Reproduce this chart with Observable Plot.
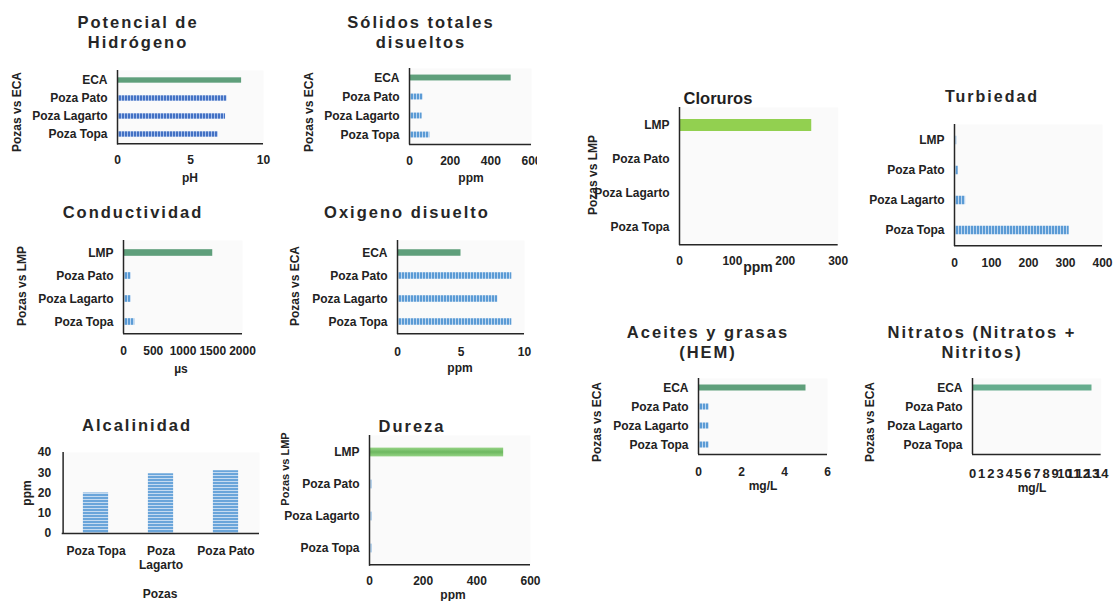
<!DOCTYPE html>
<html><head><meta charset="utf-8">
<script src="https://cdn.jsdelivr.net/npm/d3@7"></script>
<script src="https://cdn.jsdelivr.net/npm/@observablehq/plot@0.6"></script>
<style>
body{margin:0;background:#fff;}
#wrap{position:relative;width:1114px;height:601px;overflow:hidden;font-family:"Liberation Sans",Arial,sans-serif;color:#222;background:#fff;}
.t{position:absolute;white-space:nowrap;transform:translate(-50%,-50%);font-weight:bold;line-height:1;}
.title{font-size:16.5px;letter-spacing:2px;color:#262626;}
.lab{font-size:12px;}
.rot{transform:translate(-50%,-50%) rotate(-90deg);}
</style></head><body><div id="wrap">
<svg width="0" height="0" style="position:absolute;left:0;top:0">
<defs>
<pattern id="vDark" patternUnits="userSpaceOnUse" width="3" height="10"><rect width="3" height="10" fill="#a9c1ec"/><rect width="2" height="10" fill="#4472c4"/></pattern>
<pattern id="vLight" patternUnits="userSpaceOnUse" width="3" height="10"><rect width="3" height="10" fill="#bcd6f0"/><rect width="2" height="10" fill="#5b9bd5"/></pattern>
<pattern id="hLight" patternUnits="userSpaceOnUse" width="10" height="3"><rect width="10" height="3" fill="#c5dbf1"/><rect width="10" height="2" fill="#6aa5da"/></pattern>
<linearGradient id="gDur" x1="0" y1="0" x2="0" y2="1"><stop offset="0" stop-color="#95d384"/><stop offset="0.5" stop-color="#6db860"/><stop offset="1" stop-color="#95d384"/></linearGradient>
</defs></svg>
</div>
<script>
// ---- data ----
const catsECA = ["ECA", "Poza Pato", "Poza Lagarto", "Poza Topa"];
const catsLMP = ["LMP", "Poza Pato", "Poza Lagarto", "Poza Topa"];
const phValues = [8.5, 7.5, 7.4, 6.9];
const phTicks = [0, 5, 10];
const tdsValues = [500, 67, 62, 100];
const tdsTicks = [0, 200, 400, 600];
const condValues = [1500, 130, 130, 190];
const condTicks = [0, 500, 1000, 1500, 2000];
const odValues = [5, 9, 7.9, 9];
const odTicks = [0, 5, 10];
const alcCats = ["Poza Topa", "Poza Lagarto", "Poza Pato"];
const alcValues = [20, 29.5, 31];
const alcTicks = [0, 10, 20, 30, 40];
const durValues = [500, 9, 9, 9];
const durTicks = [0, 200, 400, 600];
const clorValues = [250, 0, 0, 0];
const clorTicks = [0, 100, 200, 300];
const turbValues = [6, 10, 30, 310];
const turbTicks = [0, 100, 200, 300, 400];
const aceValues = [5, 0.5, 0.5, 0.5];
const aceTicks = [0, 2, 4, 6];
const nitValues = [13, 0, 0, 0];
const nitTicks = [0,1,2,3,4,5,6,7,8,9,10,11,12,13,14];

const wrap = document.getElementById("wrap");
const AX = "#262626";
const baseStyle = {fontFamily: "Liberation Sans, Arial, sans-serif", fontSize: "12px", fontWeight: "bold", color: "#222", background: "transparent", overflow: "visible"};
const plain = d => String(d);

function place(el, left, top) {
  el.style.position = "absolute";
  el.style.left = left + "px";
  el.style.top = top + "px";
  wrap.appendChild(el);
}
function txt(s, x, y, cls, extra) {
  const d = document.createElement("div");
  d.className = "t " + cls;
  d.textContent = s;
  d.style.left = x + "px";
  d.style.top = y + "px";
  Object.assign(d.style, extra || {});
  wrap.appendChild(d);
}

function hbar(o) {
  const mL = 100, mR = o.mR ?? 20, mT = 4, mB = 34;
  const step = (o.B - o.T) / o.cats.length;
  const inset = (step - o.thick) / 2;
  const data = o.cats.map((c, i) => ({c, v: o.values[i], ref: i === 0}));
  const svg = Plot.plot({
    width: o.R - o.L + mL + mR,
    height: o.B - o.T + mT + mB,
    marginLeft: mL, marginRight: mR, marginTop: mT, marginBottom: mB,
    x: {domain: o.domain},
    y: {domain: o.cats, padding: 0},
    style: Object.assign({}, baseStyle, o.style || {}),
    marks: [
      Plot.frame({fill: "#fafafa", stroke: "none"}),
      Plot.barX(data.filter(d => d.ref), {x: "v", y: "c", fill: o.refFill, insetTop: inset, insetBottom: inset}),
      Plot.barX(data.filter(d => !d.ref), {x: "v", y: "c", fill: o.fill, insetTop: inset, insetBottom: inset}),
      Plot.ruleX([0], {stroke: AX, strokeWidth: 1.5}),
      Plot.ruleY([o.cats[o.cats.length - 1]], {dy: step / 2, stroke: AX, strokeWidth: 1.5}),
      Plot.axisX({ticks: o.ticks, tickSize: 0, tickPadding: o.xpad, label: null, tickFormat: plain, fontSize: o.tickFont}),
      Plot.axisY({tickSize: 0, tickPadding: 10, label: null})
    ]
  });
  place(svg, o.L - mL, o.T - mT);
}

const GREEN = "#5f9f7b";

// Potencial de Hidrógeno
hbar({L: 117, R: 263, T: 69.5, B: 144, cats: catsECA, values: phValues, domain: [0, 10], ticks: phTicks, thick: 6, xpad: 10.5, refFill: GREEN, fill: "url(#vDark)"});
txt("Potencial de", 138, 22, "title"); txt("Hidrógeno", 138, 42, "title");
txt("Pozas vs ECA", 17, 112, "lab rot"); txt("pH", 190, 178, "lab");

// Sólidos totales disueltos
hbar({L: 409, R: 531, T: 68, B: 144.5, cats: catsECA, values: tdsValues, domain: [0, 600], ticks: tdsTicks, thick: 6, xpad: 11, refFill: GREEN, fill: "url(#vLight)", mR: 5.5, style: {overflow: "hidden"}});
txt("Sólidos totales", 421, 22, "title"); txt("disueltos", 421, 42, "title");
txt("Pozas vs ECA", 309, 112, "lab rot"); txt("ppm", 471, 178, "lab");

// Conductividad
hbar({L: 123, R: 242, T: 240, B: 333.5, cats: catsLMP, values: condValues, domain: [0, 2000], ticks: condTicks, thick: 7, xpad: 12.5, refFill: GREEN, fill: "url(#vLight)"});
txt("Conductividad", 133, 212, "title");
txt("Pozas vs LMP", 22, 286, "lab rot"); txt("µs", 181, 369, "lab");

// Oxigeno disuelto
hbar({L: 397, R: 524, T: 239.5, B: 333.5, cats: catsECA, values: odValues, domain: [0, 10], ticks: odTicks, thick: 7, xpad: 12.5, refFill: GREEN, fill: "url(#vLight)"});
txt("Oxigeno disuelto", 407, 212, "title");
txt("Pozas vs ECA", 295, 286, "lab rot"); txt("ppm", 460, 368, "lab");

// Dureza
hbar({L: 369, R: 530, T: 434.7, B: 565.5, cats: catsLMP, values: durValues, domain: [0, 600], ticks: durTicks, thick: 9.5, xpad: 10, refFill: "url(#gDur)", fill: "url(#vLight)"});
txt("Dureza", 412, 426, "title");
txt("Pozas vs LMP", 285, 469, "lab rot", {fontSize: "11px"}); txt("ppm", 453, 595, "lab");

// Cloruros
hbar({L: 679.3, R: 838, T: 107, B: 245, cats: catsLMP, values: clorValues, domain: [0, 300], ticks: clorTicks, thick: 12.5, xpad: 11, refFill: "#92d050", fill: "url(#vLight)"});
txt("Cloruros", 718, 98, "", {fontSize: "16.5px", color: "#1f1f1f"});
txt("Pozas vs LMP", 593, 175, "lab rot"); txt("ppm", 758, 267, "lab", {fontSize: "14px"});

// Turbiedad
hbar({L: 954, R: 1102, T: 124, B: 246, cats: catsLMP, values: turbValues, domain: [0, 400], ticks: turbTicks, thick: 9, xpad: 11.5, refFill: "url(#vLight)", fill: "url(#vLight)", mR: 12});
txt("Turbiedad", 992, 97, "title", {fontSize: "16px"});

// Aceites y grasas (HEM)
hbar({L: 698, R: 827, T: 378, B: 454, cats: catsECA, values: aceValues, domain: [0, 6], ticks: aceTicks, thick: 6, xpad: 12.5, refFill: GREEN, fill: "url(#vLight)"});
txt("Aceites y grasas", 708, 332, "title"); txt("(HEM)", 708, 352, "title");
txt("Pozas vs ECA", 597, 422, "lab rot"); txt("mg/L", 763, 486, "lab");

// Nitratos
hbar({L: 972.3, R: 1101, T: 378, B: 454, cats: catsECA, values: nitValues, domain: [0, 14], ticks: nitTicks, thick: 6, xpad: 14, refFill: "#66ad8e", fill: "url(#vLight)", mR: 12, tickFont: 13});
txt("Nitratos (Nitratos +", 982, 332, "title"); txt("Nitritos)", 982, 352, "title");
txt("Pozas vs ECA", 870, 422, "lab rot"); txt("mg/L", 1032, 488, "lab");

// Alcalinidad (vertical bars)
(function () {
  const L = 61.7, R = 259, T = 451.7, B = 532.7;
  const mL = 61.7, mR = 20, mT = 6, mB = 40;
  const step = (R - L) / alcCats.length;
  const inset = (step - 26) / 2;
  const data = alcCats.map((c, i) => ({c, v: alcValues[i]}));
  const svg = Plot.plot({
    width: R - L + mL + mR, height: B - T + mT + mB,
    marginLeft: mL, marginRight: mR, marginTop: mT, marginBottom: mB,
    x: {domain: alcCats, padding: 0},
    y: {domain: [0, 40]},
    style: baseStyle,
    marks: [
      Plot.frame({fill: "#fafafa", stroke: "none"}),
      Plot.barY(data, {x: "c", y: "v", fill: "url(#hLight)", insetLeft: inset, insetRight: inset}),
      Plot.ruleY([0], {stroke: AX, strokeWidth: 1.5}),
      Plot.ruleX([alcCats[0]], {dx: -step / 2, stroke: AX, strokeWidth: 1.5}),
      Plot.axisX({tickSize: 0, tickPadding: 12, label: null, lineHeight: 1.15, tickFormat: d => d === "Poza Lagarto" ? "Poza\nLagarto" : d}),
      Plot.axisY({ticks: alcTicks, tickSize: 0, tickPadding: 11, label: null})
    ]
  });
  place(svg, L - mL, T - mT);
  txt("Alcalinidad", 137, 425, "title");
  txt("ppm", 27, 493, "lab rot"); txt("Pozas", 160, 594, "lab");
})();
</script>
</body></html>
